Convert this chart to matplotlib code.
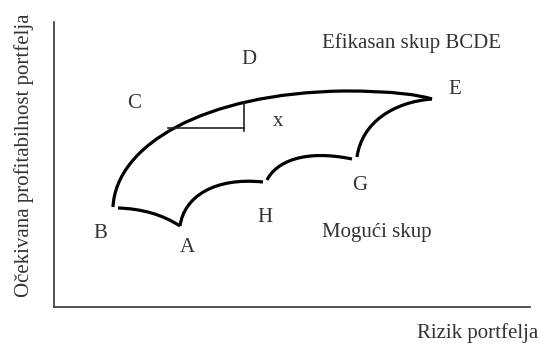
import matplotlib.pyplot as plt
from matplotlib.path import Path
from matplotlib.patches import PathPatch

# control points of the curves (data units, schematic diagram)
frontier_pts = [(59, 100), (62, 162), (150, 214), (290, 216),
                (340, 216), (365, 212), (378, 208)]
arc_BA = [(64, 99), (100, 98), (126, 81)]
arc_AH = [(126, 81), (130, 110), (160, 130), (209, 125)]
arc_HG = [(213, 127), (222, 145), (250, 158), (298, 148)]
arc_GE = [(303, 150), (308, 185), (340, 205), (378, 208)]

# small triangle under C-D
tri_h = [(114, 179), (190, 179)]
tri_v = [(190, 176), (190, 204)]

point_labels = ["B", "A", "H", "G", "E", "D", "C", "x"]
point_pos = [(46, 73), (133, 59), (211, 90), (306, 121), (401, 218),
             (195, 248), (80, 203), (224, 185)]

efficient_text = "Efikasan skup BCDE"
feasible_text = "Mogući skup"
xlabel = "Rizik portfelja"
ylabel = "Očekivana profitabilnost portfelja"

plt.rcParams['font.family'] = ['Liberation Serif', 'DejaVu Serif']
txt_col = '#333333'
fs = 15

fig = plt.figure(figsize=(5.4, 3.54), dpi=100)
ax = fig.add_axes([54 / 540, 47 / 354, 476 / 540, 285 / 354])
ax.set_xlim(0, 476)
ax.set_ylim(0, 285)
ax.set_xticks([])
ax.set_yticks([])
for s in ['top', 'right']:
    ax.spines[s].set_visible(False)
for s in ['left', 'bottom']:
    ax.spines[s].set_linewidth(1.3)
    ax.spines[s].set_color('#444444')


def bezier(pts, lw=2.3):
    n = len(pts)
    if n == 3:
        codes = [Path.MOVETO, Path.CURVE3, Path.CURVE3]
    else:
        codes = [Path.MOVETO] + [Path.CURVE4] * (n - 1)
    ax.add_patch(PathPatch(Path(pts, codes), fill=False, lw=lw,
                           edgecolor='black', capstyle='butt'))


bezier(frontier_pts)
bezier(arc_BA)
bezier(arc_AH)
bezier(arc_HG)
bezier(arc_GE)

ax.plot(*zip(*tri_h), color='#222222', lw=1.2)
ax.plot(*zip(*tri_v), color='#222222', lw=1.2)

for lab, (x, y) in zip(point_labels, point_pos):
    ax.text(x, y, lab, fontsize=fs, color=txt_col, ha='center', va='center')

ax.text(358, 264, efficient_text, fontsize=fs, color=txt_col,
        ha='center', va='center')
ax.text(323, 75, feasible_text, fontsize=fs, color=txt_col,
        ha='center', va='center')

fig.text(478 / 540, 1 - 333 / 354, xlabel, fontsize=fs, color=txt_col,
         ha='center', va='center')
fig.text(24 / 540, 1 - 155 / 354, ylabel, fontsize=fs, color=txt_col,
         ha='center', va='center', rotation=90)

fig.savefig('out.png', dpi=100)
